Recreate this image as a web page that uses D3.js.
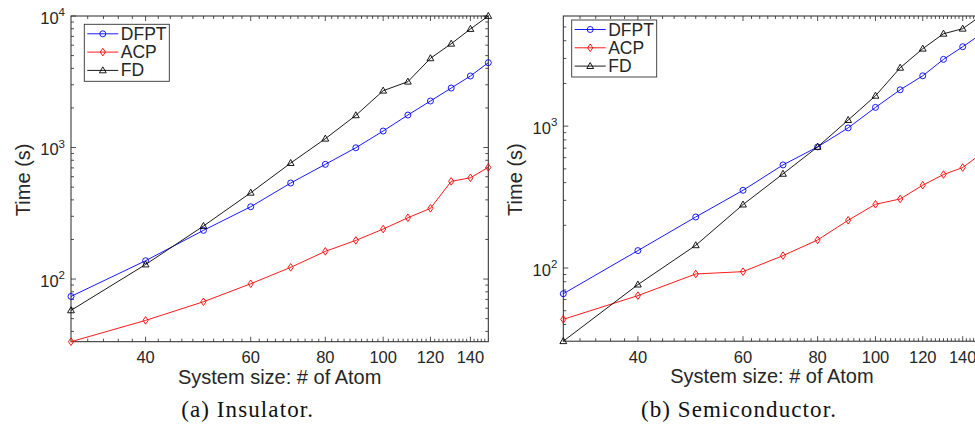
<!DOCTYPE html>
<html>
<head>
<meta charset="utf-8">
<script src="https://cdn.jsdelivr.net/npm/d3@7"></script>
<style>
  html, body { margin: 0; padding: 0; background: #fff; }
  svg { display: block; }
</style>
</head>
<body>
<svg id="chart" width="975" height="435"></svg>
<script>
// System sizes (# of atoms) shared by both panels
const sizes = [30, 40, 50, 60, 70, 80, 90, 100, 110, 120, 130, 140, 150];
const xTickValues = [40, 60, 80, 100, 120, 140];
const seriesNames = ["DFPT", "ACP", "FD"];

// (a) Insulator — wall time in seconds
const dfptInsulator = [73.8, 137.8, 234.6, 354.6, 537, 745, 996, 1335, 1766, 2258, 2833, 3497, 4415];
const acpInsulator  = [33.4, 48.5, 67.2, 92.1, 122.7, 162.4, 196.8, 240, 292.5, 344.7, 553, 589, 706];
const fdInsulator   = [57.8, 129, 253, 453, 762, 1167, 1757, 2704, 3166, 4766, 6151, 7962, 10000];

// (b) Semiconductor — wall time in seconds
const dfptSemi = [65.9, 132.7, 229, 353, 533, 714, 972, 1355, 1804, 2264, 2956, 3629, 4430];
const acpSemi  = [43.5, 63.9, 90.8, 94.3, 122.3, 157.7, 217, 281.5, 306.7, 383.6, 456, 511, 634];
const fdSemi   = [30.5, 76.4, 144.6, 280, 461, 714, 1103, 1636, 2578, 3514, 4480, 4860, 5975];

const styles = {
  DFPT: { color: "#0000ff", marker: "circle" },
  ACP:  { color: "#ff0000", marker: "diamond" },
  FD:   { color: "#000000", marker: "triangle" }
};

const svg = d3.select("#chart");
const axisColor = "#262626";
const sansFont = "'Liberation Sans', Arial, Helvetica, sans-serif";
const serifFont = "'Liberation Serif', 'Times New Roman', serif";

function markerPath(type) {
  if (type === "circle") return "M3,0A3,3 0 1,1 -3,0A3,3 0 1,1 3,0Z";
  if (type === "diamond") return "M0,-3.8L2.6,0L0,3.8L-2.6,0Z";
  return "M0,-3.6L3.4,2.4L-3.4,2.4Z";
}

function drawPanel(cfg) {
  const { left, right, top, bottom, series, caption, legendPos } = cfg;
  const g = svg.append("g").attr("font-family", sansFont).attr("fill", axisColor);

  const allVals = series.flatMap(s => s.values);
  const x = d3.scaleLog().domain([sizes[0], sizes[sizes.length - 1]]).range([left, right]);
  const y = d3.scaleLog().domain(d3.extent(allVals)).range([bottom, top]);

  // minor x ticks every 2 atoms, major at labelled sizes
  const xMinor = d3.range(32, 150, 2).filter(v => !xTickValues.includes(v));
  const [y0, y1] = y.domain();
  const yMajor = [], yMinor = [];
  for (let e = Math.floor(Math.log10(y0)); e <= Math.ceil(Math.log10(y1)); e++) {
    for (let k = 1; k <= 9; k++) {
      const v = k * Math.pow(10, e);
      if (v < y0 * 0.999 || v > y1 * 1.001) continue;
      (k === 1 ? yMajor : yMinor).push(v);
    }
  }

  const tickG = g.append("g").attr("stroke", axisColor).attr("stroke-width", 0.8);
  const majorLen = 5, minorLen = 3;

  // x ticks on bottom and top edges, pointing inward
  xMinor.forEach(v => {
    const px = x(v);
    tickG.append("line").attr("x1", px).attr("x2", px).attr("y1", bottom).attr("y2", bottom - minorLen);
    tickG.append("line").attr("x1", px).attr("x2", px).attr("y1", top).attr("y2", top + minorLen);
  });
  xTickValues.forEach(v => {
    const px = x(v);
    tickG.append("line").attr("x1", px).attr("x2", px).attr("y1", bottom).attr("y2", bottom - majorLen);
    tickG.append("line").attr("x1", px).attr("x2", px).attr("y1", top).attr("y2", top + majorLen);
  });
  // y ticks on left and right edges
  yMinor.forEach(v => {
    const py = y(v);
    tickG.append("line").attr("x1", left).attr("x2", left + minorLen).attr("y1", py).attr("y2", py);
    tickG.append("line").attr("x1", right).attr("x2", right - minorLen).attr("y1", py).attr("y2", py);
  });
  yMajor.forEach(v => {
    const py = y(v);
    tickG.append("line").attr("x1", left).attr("x2", left + majorLen).attr("y1", py).attr("y2", py);
    tickG.append("line").attr("x1", right).attr("x2", right - majorLen).attr("y1", py).attr("y2", py);
  });

  // box
  g.append("rect")
    .attr("x", left).attr("y", top)
    .attr("width", right - left).attr("height", bottom - top)
    .attr("fill", "none").attr("stroke", axisColor).attr("stroke-width", 1);

  // tick labels
  xTickValues.forEach(v => {
    g.append("text")
      .attr("x", x(v)).attr("y", bottom + 21.6)
      .attr("text-anchor", "middle").attr("font-size", 16.5)
      .text(v);
  });
  yMajor.forEach(v => {
    const t = g.append("text")
      .attr("x", left - 6).attr("y", y(v) + 7.5)
      .attr("text-anchor", "end").attr("font-size", 16.5);
    t.append("tspan").text("10");
    t.append("tspan").attr("dy", -7.5).attr("font-size", 11.5).text(Math.round(Math.log10(v)));
  });

  // axis titles
  g.append("text")
    .attr("x", (left + right) / 2).attr("y", bottom + 42)
    .attr("text-anchor", "middle").attr("font-size", 20)
    .text("System size: # of Atom");
  g.append("text")
    .attr("transform", `translate(${left - 41},${(top + bottom) / 2 + 1}) rotate(-90)`)
    .attr("text-anchor", "middle").attr("font-size", 20)
    .text("Time (s)");

  // series lines and markers
  const line = d3.line().x((d, i) => x(sizes[i])).y(d => y(d));
  series.forEach(s => {
    const st = styles[s.name];
    g.append("path")
      .datum(s.values)
      .attr("d", line)
      .attr("fill", "none").attr("stroke", st.color).attr("stroke-width", 0.9);
    g.selectAll(null).data(s.values).enter().append("path")
      .attr("transform", (d, i) => `translate(${x(sizes[i])},${y(d)})`)
      .attr("d", markerPath(st.marker))
      .attr("fill", "none").attr("stroke", st.color).attr("stroke-width", 0.9);
  });

  // legend
  const lg = g.append("g").attr("transform", `translate(${left + legendPos[0]},${top + legendPos[1]})`);
  lg.append("rect")
    .attr("width", 85).attr("height", 57)
    .attr("fill", "#fff").attr("stroke", "#333").attr("stroke-width", 0.9);
  seriesNames.forEach((name, i) => {
    const st = styles[name];
    const ry = 9.5 + i * 18.3;
    lg.append("line").attr("x1", 3).attr("x2", 34).attr("y1", ry).attr("y2", ry)
      .attr("stroke", st.color).attr("stroke-width", 0.9);
    lg.append("path").attr("transform", `translate(18.5,${ry})`).attr("d", markerPath(st.marker))
      .attr("fill", "none").attr("stroke", st.color).attr("stroke-width", 0.9);
    lg.append("text").attr("x", 36.5).attr("y", ry + 6).attr("font-size", 17.5).text(name);
  });

  // caption
  g.append("text")
    .attr("font-family", serifFont).attr("fill", "#111")
    .attr("x", (left + right) / 2 + cfg.captionShift).attr("y", 416.7)
    .attr("text-anchor", "middle").attr("font-size", 23).attr("letter-spacing", 1.1)
    .text(caption);
}

drawPanel({
  left: 71, right: 488.3, top: 16, bottom: 341.7,
  series: [
    { name: "DFPT", values: dfptInsulator },
    { name: "ACP", values: acpInsulator },
    { name: "FD", values: fdInsulator }
  ],
  legendPos: [13.3, 8.3],
  caption: "(a) Insulator.",
  captionShift: -32
});

drawPanel({
  left: 563.3, right: 980.6, top: 16, bottom: 341.2,
  series: [
    { name: "DFPT", values: dfptSemi },
    { name: "ACP", values: acpSemi },
    { name: "FD", values: fdSemi }
  ],
  legendPos: [8.4, 4],
  caption: "(b) Semiconductor.",
  captionShift: -33
});
</script>
</body>
</html>
